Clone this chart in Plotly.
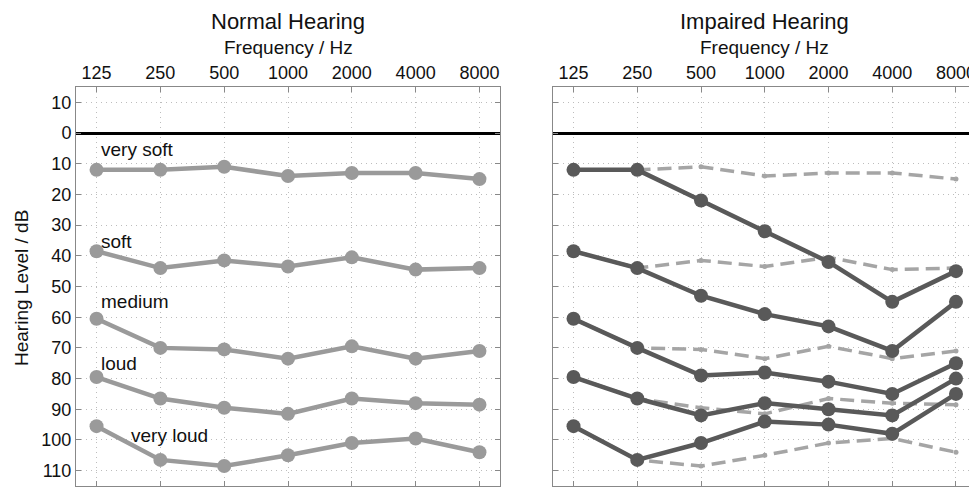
import plotly.graph_objects as go
from plotly.subplots import make_subplots

freqs = [125, 250, 500, 1000, 2000, 4000, 8000]
freq_labels = ["125", "250", "500", "1000", "2000", "4000", "8000"]
level_names = ["very soft", "soft", "medium", "loud", "very loud"]

normal = [
    [12, 12, 11, 14, 13, 13, 15],
    [38.5, 44, 41.5, 43.5, 40.5, 44.5, 44],
    [60.5, 70, 70.5, 73.5, 69.5, 73.5, 71],
    [79.5, 86.5, 89.5, 91.5, 86.5, 88, 88.5],
    [95.5, 106.5, 108.5, 105, 101, 99.5, 104],
]
impaired = [
    [12, 12, 22, 32, 42, 55, 45],
    [38.5, 44, 53, 59, 63, 71, 55],
    [60.5, 70, 79, 78, 81, 85, 75],
    [79.5, 86.5, 92, 88, 90, 92, 80],
    [95.5, 106.5, 101, 94, 95, 98, 85],
]
y_ticks = [-10, 0, 10, 20, 30, 40, 50, 60, 70, 80, 90, 100, 110]
y_ticklabels = ["10", "0", "10", "20", "30", "40", "50", "60", "70", "80", "90", "100", "110"]

LIGHT = "#9a9a9a"
DARK = "#595959"
FONT = "Liberation Sans, Arial, sans-serif"
TXT = "#111111"

fig = make_subplots(rows=1, cols=2, horizontal_spacing=0.05)

for vals in normal:
    fig.add_trace(go.Scatter(x=freqs, y=vals, mode="lines+markers",
                             line=dict(color=LIGHT, width=4.5),
                             marker=dict(color=LIGHT, size=14),
                             showlegend=False, hoverinfo="skip"), row=1, col=1)
for vals in normal:
    fig.add_trace(go.Scatter(x=freqs, y=vals, mode="lines+markers",
                             line=dict(color="#a5a5a5", width=3.5, dash="14px,7px"),
                             marker=dict(color="#a5a5a5", size=5),
                             showlegend=False, hoverinfo="skip"), row=1, col=2)
for vals in impaired:
    fig.add_trace(go.Scatter(x=freqs, y=vals, mode="lines+markers",
                             line=dict(color=DARK, width=4.5),
                             marker=dict(color=DARK, size=14),
                             showlegend=False, hoverinfo="skip"), row=1, col=2)

# page body has an 8px margin: figure pixel = screen pixel - 8
OFF = 8
W, H = 977 - OFF, 487 - OFF


def px(x):
    return (x - OFF) / W


def py(y):
    return 1 - (y - OFF) / H


xdom1 = [px(76), px(500)]
xdom2 = [px(553), px(976.5)]
ydom = [py(486), py(87)]

xcommon = dict(type="log", range=[2, 4], tickvals=freqs, ticktext=freq_labels,
               side="top", ticks="inside", ticklen=5, tickcolor="#888888",
               showline=True, linecolor="#888888", linewidth=1, mirror="ticks",
               showgrid=True, gridcolor="#bdbdbd", griddash="1px,4px", gridwidth=1,
               tickfont=dict(size=18, color=TXT, family=FONT),
               zeroline=False, automargin=False)
ycommon = dict(range=[115, -15], tickvals=y_ticks, ticktext=y_ticklabels,
               ticks="inside", ticklen=5, tickcolor="#888888",
               showline=True, linecolor="#888888", linewidth=1, mirror="ticks",
               showgrid=True, gridcolor="#bdbdbd", griddash="1px,4px", gridwidth=1,
               tickfont=dict(size=18, color=TXT, family=FONT),
               zeroline=True, zerolinecolor="black", zerolinewidth=3,
               automargin=False)

fig.update_xaxes(**xcommon)
fig.update_yaxes(**ycommon)
fig.update_layout(
    xaxis=dict(domain=xdom1), xaxis2=dict(domain=xdom2),
    yaxis=dict(domain=ydom), yaxis2=dict(domain=ydom, showticklabels=False),
)

ann = []
for cx, title in [((xdom1[0] + xdom1[1]) / 2, "Normal Hearing"),
                  ((xdom2[0] + xdom2[1]) / 2, "Impaired Hearing")]:
    ann.append(dict(x=cx, y=py(21), xref="paper", yref="paper", text=title,
                    showarrow=False, font=dict(size=22, color=TXT, family=FONT),
                    xanchor="center", yanchor="middle"))
    ann.append(dict(x=cx, y=py(47), xref="paper", yref="paper", text="Frequency / Hz",
                    showarrow=False, font=dict(size=19, color=TXT, family=FONT),
                    xanchor="center", yanchor="middle"))
ann.append(dict(x=px(21), y=py(288), xref="paper", yref="paper",
                text="Hearing Level / dB", textangle=-90, showarrow=False,
                font=dict(size=19, color=TXT, family=FONT),
                xanchor="center", yanchor="middle"))
label_pos = [(2.108, 5.5), (2.108, 35.2), (2.108, 55), (2.108, 75.2), (2.25, 98.4)]
for name, (lx, ly) in zip(level_names, label_pos):
    ann.append(dict(x=lx, y=ly, xref="x", yref="y", text=name, showarrow=False,
                    font=dict(size=19, color=TXT, family=FONT),
                    xanchor="left", yanchor="middle"))

fig.update_layout(
    width=W, height=H,
    margin=dict(l=0, r=0, t=0, b=0),
    paper_bgcolor="white", plot_bgcolor="white",
    annotations=ann,
    font=dict(family=FONT),
)

fig.write_html("out.html")
